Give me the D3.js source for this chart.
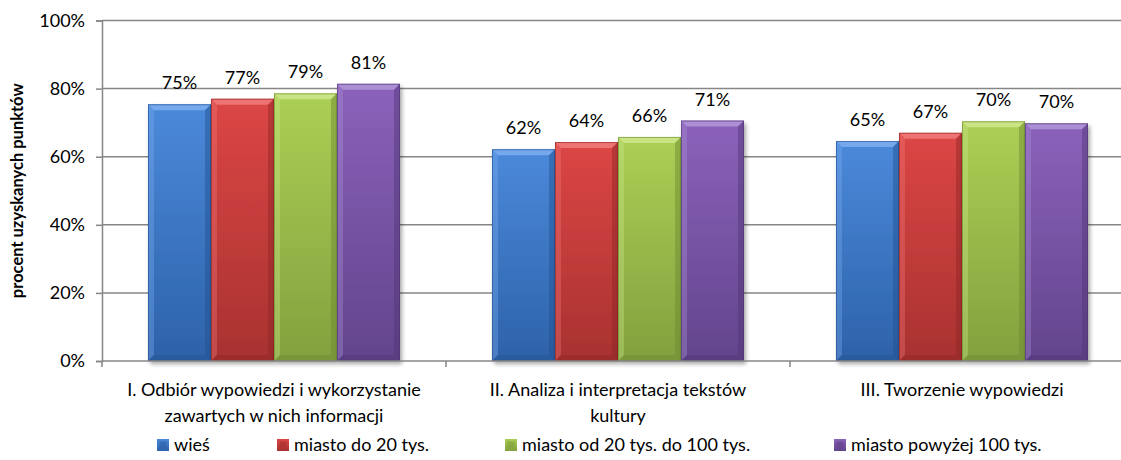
<!DOCTYPE html>
<html>
<head>
<meta charset="utf-8">
<script src="https://cdn.jsdelivr.net/npm/d3@7"></script>
<style>
  body { margin: 0; background: #fff; }
  svg text { font-family: Lato, "Noto Sans", sans-serif; fill: #000; }
</style>
</head>
<body>
<svg id="chart" width="1121" height="460"></svg>
<script>
// data
var categories = [
  ["I. Odbiór wypowiedzi i wykorzystanie", "zawartych w nich informacji"],
  ["II. Analiza i interpretacja tekstów", "kultury"],
  ["III. Tworzenie wypowiedzi"]
];
var series = ["wieś", "miasto do 20 tys.", "miasto od 20 tys. do 100 tys.", "miasto powyżej 100 tys."];
var wies      = [0.754, 0.622, 0.646];
var miasto20  = [0.770, 0.643, 0.670];
var miasto100 = [0.786, 0.658, 0.704];
var miastoPow = [0.814, 0.706, 0.698];
var yTicks = [0, 0.2, 0.4, 0.6, 0.8, 1];

var values = [wies, miasto20, miasto100, miastoPow];
// [top, bottom, light bevel, dark bevel]
var colors = [
  ["#4b89da", "#2d62a9", "#7eaef0", "#22508f"],
  ["#dc4645", "#a83230", "#f07c7a", "#8c2525"],
  ["#abcf55", "#82a13e", "#cfe78d", "#6c8831"],
  ["#8b62bb", "#62448c", "#b096d8", "#4f3573"]
];

var svg = d3.select("#chart");
var plotLeft = 102, plotRight = 1134, plotTop = 20.5, plotBottom = 361;
var fontSize = "18px";

var x0 = d3.scaleBand().domain(d3.range(categories.length)).range([plotLeft, plotRight]);
var x1 = d3.scaleBand().domain(d3.range(series.length))
    .range([0, x0.bandwidth()]).paddingOuter(0.73);
var y = d3.scaleLinear().domain([0, 1]).range([plotBottom, plotTop]);
var pct = d3.format(".0%");

// gradients
var defs = svg.append("defs");
colors.forEach(function(c, i) {
  var g = defs.append("linearGradient").attr("id", "g" + i)
      .attr("x1", 0).attr("y1", 0).attr("x2", 0).attr("y2", 1);
  g.append("stop").attr("offset", "0%").attr("stop-color", c[0]);
  g.append("stop").attr("offset", "100%").attr("stop-color", c[1]);
});
var f = defs.append("filter").attr("id", "shadow")
    .attr("x", "-10%").attr("y", "-10%").attr("width", "130%").attr("height", "130%");
f.append("feDropShadow").attr("dx", 2).attr("dy", 3).attr("stdDeviation", 2)
    .attr("flood-color", "#000").attr("flood-opacity", 0.35);

// gridlines
svg.append("g").selectAll("line")
  .data(yTicks.filter(function(d) { return d > 0; })).enter().append("line")
    .attr("x1", plotLeft).attr("x2", 1121)
    .attr("y1", function(d) { return y(d); }).attr("y2", function(d) { return y(d); })
    .attr("stroke", "#868686").attr("stroke-width", 1.5);

// y axis
var yAxis = d3.axisLeft(y).tickValues(yTicks).tickFormat(pct).tickSize(6).tickPadding(11);
svg.append("g").attr("transform", "translate(" + plotLeft + ",0)").call(yAxis)
  .call(function(g) {
    g.select(".domain").attr("stroke", "#868686").attr("stroke-width", 1.5);
    g.selectAll(".tick line").attr("stroke", "#868686").attr("stroke-width", 1.5);
    g.selectAll(".tick text").style("font-size", fontSize)
      .style("font-family", "Lato, sans-serif").attr("fill", "#000");
  });

// bars
var b = 6;
var groups = svg.append("g").selectAll("g")
  .data(d3.range(categories.length)).enter().append("g")
    .attr("transform", function(c) { return "translate(" + x0(c) + ",0)"; });

groups.each(function(c) {
  var g = d3.select(this);
  series.forEach(function(s, i) {
    var v = values[i][c];
    var bx = x1(i), bw = x1.bandwidth(), by = y(v), bh = y(0) - y(v);
    var bar = g.append("g");
    bar.append("rect").attr("x", bx).attr("y", by).attr("width", bw).attr("height", bh)
      .attr("fill", "url(#g" + i + ")").attr("filter", "url(#shadow)");
    // bevels
    bar.append("polygon").attr("points", [[bx, by], [bx + bw, by], [bx + bw - b, by + b], [bx + b, by + b]].join(" "))
      .attr("fill", colors[i][2]).attr("opacity", 0.85);
    bar.append("polygon").attr("points", [[bx, by], [bx + b, by + b], [bx + b, by + bh - b], [bx, by + bh]].join(" "))
      .attr("fill", colors[i][2]).attr("opacity", 0.35);
    bar.append("polygon").attr("points", [[bx + bw, by], [bx + bw - b, by + b], [bx + bw - b, by + bh - b], [bx + bw, by + bh]].join(" "))
      .attr("fill", colors[i][3]).attr("opacity", 0.45);
    bar.append("polygon").attr("points", [[bx, by + bh], [bx + b, by + bh - b], [bx + bw - b, by + bh - b], [bx + bw, by + bh]].join(" "))
      .attr("fill", colors[i][3]).attr("opacity", 0.4);
    bar.append("rect").attr("x", bx + 0.5).attr("y", by + 0.5).attr("width", bw - 1).attr("height", bh - 1)
      .attr("fill", "none").attr("stroke", colors[i][3]).attr("stroke-opacity", 0.6).attr("stroke-width", 1);
    // data label
    g.append("text").attr("x", bx + bw / 2).attr("y", by - 15)
      .attr("text-anchor", "middle").style("font-size", fontSize)
      .text(pct(v));
  });
});

// x axis
svg.append("line").attr("x1", plotLeft).attr("x2", 1121).attr("y1", plotBottom).attr("y2", plotBottom)
  .attr("stroke", "#868686").attr("stroke-width", 1.5);
svg.append("g").selectAll("line")
  .data(d3.range(categories.length + 1)).enter().append("line")
    .attr("x1", function(c) { return plotLeft + c * x0.step(); })
    .attr("x2", function(c) { return plotLeft + c * x0.step(); })
    .attr("y1", plotBottom).attr("y2", plotBottom + 6)
    .attr("stroke", "#868686").attr("stroke-width", 1.5);

svg.append("g").selectAll("text")
  .data(d3.range(categories.length)).enter().append("text")
    .attr("y", 396)
    .attr("text-anchor", "middle").style("font-size", fontSize)
    .each(function(c) {
      var t = d3.select(this);
      categories[c].forEach(function(line, k) {
        t.append("tspan").attr("x", x0(c) + x0.bandwidth() / 2).attr("dy", k ? 26 : 0).text(line);
      });
    });

// y title
svg.append("text").attr("transform", "translate(23," + ((plotTop + plotBottom) / 2) + ") rotate(-90)")
  .attr("text-anchor", "middle").style("font-size", "16.5px").style("font-weight", "bold")
  .text("procent uzyskanych punktów");

// legend
var legendX = [157, 277, 505, 834];
var legend = svg.append("g").selectAll("g")
  .data(series).enter().append("g")
    .attr("transform", function(d, i) { return "translate(" + legendX[i] + ",445)"; });
legend.append("rect").attr("x", 0).attr("y", -6).attr("width", 12).attr("height", 12)
  .attr("fill", function(d, i) { return "url(#g" + i + ")"; });
legend.append("rect").attr("x", 2.5).attr("y", -3.5).attr("width", 7).attr("height", 7)
  .attr("fill", function(d, i) { return colors[i][1]; }).attr("opacity", 0.6);
legend.append("text").attr("x", 17).attr("y", 0).attr("dy", "0.35em")
  .style("font-size", fontSize).text(function(d) { return d; });
</script>
</body>
</html>
